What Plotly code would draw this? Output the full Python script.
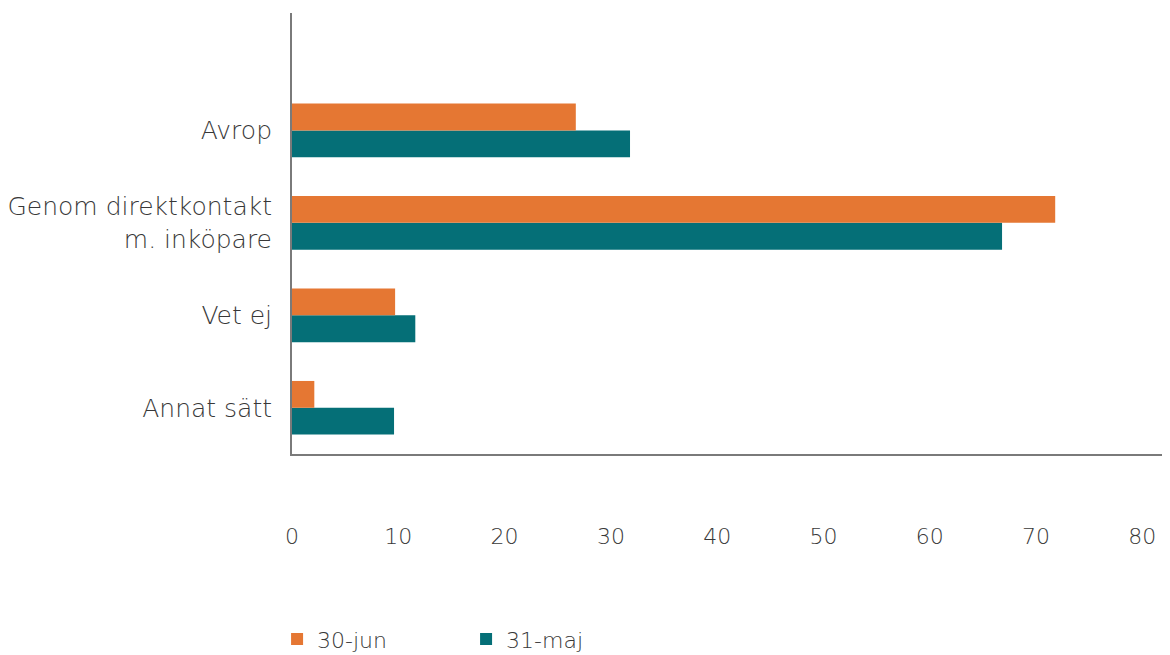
import plotly.graph_objects as go

categories = ["Annat sätt", "Vet ej", "Genom direktkontakt<br>m. inköpare", "Avrop"]
jun_values = [2.1, 9.7, 71.8, 26.7]
maj_values = [9.6, 11.6, 66.8, 31.8]
x_ticks = [0, 10, 20, 30, 40, 50, 60, 70, 80]

ORANGE = "#E57733"
TEAL = "#056F77"
TEXT = "#383838"
FONT = "DejaVu Sans"
W = 200

fig = go.Figure()
fig.add_trace(go.Bar(y=categories, x=maj_values, orientation="h", name="31-maj",
                     marker=dict(color=TEAL, line=dict(width=0)), legendrank=2))
fig.add_trace(go.Bar(y=categories, x=jun_values, orientation="h", name="30-jun",
                     marker=dict(color=ORANGE, line=dict(width=0)), legendrank=1))

fig.update_layout(
    width=1162, height=647,
    margin=dict(l=284, r=0, t=5, b=201, autoexpand=False),
    paper_bgcolor="white", plot_bgcolor="white",
    barmode="group", bargap=0.42, bargroupgap=0,
    font=dict(family=FONT, size=22, color=TEXT, weight=W),
    showlegend=True,
    legend=dict(orientation="h", x=-0.017, xanchor="left", y=-0.42, yanchor="middle",
                font=dict(size=22, color=TEXT, family=FONT, weight=W),
                entrywidth=144, entrywidthmode="pixels",
                bgcolor="rgba(0,0,0,0)"),
    xaxis=dict(range=[0, 82.6], tickvals=x_ticks, showgrid=False, zeroline=False,
               automargin=False,
               showline=True, linecolor="#7a7a7a", linewidth=2,
               ticks="outside", ticklen=62, tickcolor="rgba(0,0,0,0)",
               tickfont=dict(size=22, color=TEXT, family=FONT, weight=W)),
    yaxis=dict(range=[-0.5, 4.27], showgrid=False, zeroline=False,
               automargin=False,
               showline=True, linecolor="#7a7a7a", linewidth=2,
               ticks="outside", ticklen=13, tickcolor="rgba(0,0,0,0)",
               tickfont=dict(size=25, color=TEXT, family=FONT, weight=W)),
)

fig.write_html("out.html")
